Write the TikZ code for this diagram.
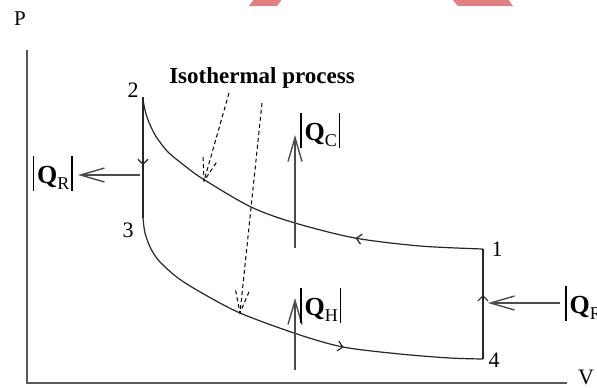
\documentclass[tikz,border=0pt]{standalone}
\usepackage{amsmath}
\usepackage{fontspec}
\setmainfont{Liberation Serif}
\usetikzlibrary{arrows.meta, calc, decorations.markings}

\definecolor{wmark}{RGB}{224,128,128}

\newcommand{\heatlabel}[1]{\rule[-3.5pt]{0.6pt}{17.5pt}\kern1.5pt\textbf{Q}\raisebox{-2.8pt}{\fontsize{9}{10}\selectfont #1}\kern1pt\rule[-3.5pt]{0.6pt}{17.5pt}}

\begin{document}
\begin{tikzpicture}[
    x=0.5pt, y=-0.5pt,
    axis/.style={draw=black!65, line width=0.8pt},
    cycleline/.style={draw=black!85, line width=0.6pt},
    heat/.style={draw=black!70, line width=0.7pt, -{Straight Barb[length=12pt, width=7pt]}},
    isodash/.style={draw=black, line width=0.5pt, dash pattern=on 2pt off 1.5pt},
    numlabel/.style={font=\fontsize{11}{13}\selectfont, inner sep=0pt},
    heatlab/.style={font=\fontsize{13}{15}\selectfont, inner sep=0pt},
    flowmark/.style={postaction={decorate}, decoration={markings,
        mark=at position #1 with {\arrow{Straight Barb[length=2.5pt, width=5pt]}}}}
]
    \clip (0,0) rectangle (597,387);

    % Watermark pieces
    \fill[wmark] (249,6) -- (277,6) -- (283,-2) -- (255,-2) -- cycle;
    \fill[wmark] (451,-2) -- (507,-2) -- (513,6) -- (458,6) -- cycle;

    % Axes
    \coordinate (ytop) at (27,50);
    \coordinate (origin) at (27,383);
    \coordinate (xend) at (567,383);
    \draw[axis] (ytop) -- (origin) -- (xend);
    \node[font=\fontsize{10.5}{12}\selectfont, inner sep=0pt] (plab) at (20,19) {P};
    \node[font=\fontsize{11}{13}\selectfont, inner sep=0pt] (vlab) at (586,377) {V};

    % State points
    \coordinate (p1) at (483,249);
    \coordinate (p2) at (143,97);
    \coordinate (p3) at (143,218);
    \coordinate (p4) at (483,359);
    \node[numlabel] (n1) at (497,249) {1};
    \node[numlabel] (n2) at (133,90) {2};
    \node[numlabel] (n3) at (128,230) {3};
    \node[numlabel] (n4) at (494,360) {4};

    % Cycle: 1-2 isothermal, 2-3, 3-4 isothermal, 4-1
    \draw[cycleline, flowmark=64pt] plot[smooth] coordinates {(p1) (420,246) (355,238) (295,223)
        (251,207) (203,179) (185,166) (168,152) (157,138) (151,127) (146,114) (143,100)};
    \draw[cycleline, flowmark=34pt] (p2) -- (p3);
    \draw[cycleline, flowmark=-70pt] plot[smooth] coordinates {(p3) (145,233) (151,249) (160,262)
        (178,278) (202,293) (240,313) (297,334) (343,347) (400,354) (450,358) (p4)};
    \draw[cycleline, flowmark=32pt] (p4) -- (p1);

    % Heat flows
    \coordinate (qcfoot) at (295,248);
    \coordinate (qctip) at (295,135);
    \draw[heat] (qcfoot) -- (qctip);
    \node[heatlab, anchor=west] (qc) at (300,130) {\heatlabel{C}};

    \coordinate (qhfoot) at (295,370);
    \coordinate (qhtip) at (295,298);
    \draw[heat] (qhfoot) -- (qhtip);
    \node[heatlab, anchor=west] (qh) at (300,305) {\heatlabel{H}};

    \coordinate (qrlfoot) at (140,175);
    \coordinate (qrltip) at (78,175);
    \draw[heat] (qrlfoot) -- (qrltip);
    \node[heatlab, anchor=east] (qrl) at (73,173) {\heatlabel{R}};

    \coordinate (qrrfoot) at (560,303);
    \coordinate (qrrtip) at (488,303);
    \draw[heat] (qrrfoot) -- (qrrtip);
    \node[heatlab, anchor=west] (qrr) at (565,303) {\heatlabel{R}};

    % Isothermal pointers
    \node[font=\bfseries\fontsize{11.5}{13}\selectfont, inner sep=0pt] (iso) at (262,78) {Isothermal process};
    \coordinate (isoa) at (229,93);
    \coordinate (isoatip) at (204,181);
    \coordinate (isob) at (262,103);
    \coordinate (isobtip) at (240,313);
    \draw[isodash] (isoa) -- (isoatip);
    \draw[isodash] ($(isoatip)!12pt!18:(isoa)$) -- (isoatip) -- ($(isoatip)!12pt!-18:(isoa)$);
    \draw[isodash] (isob) -- (isobtip);
    \draw[isodash] ($(isobtip)!11.5pt!17:(isob)$) -- (isobtip) -- ($(isobtip)!11.5pt!-17:(isob)$);
\end{tikzpicture}
\end{document}
